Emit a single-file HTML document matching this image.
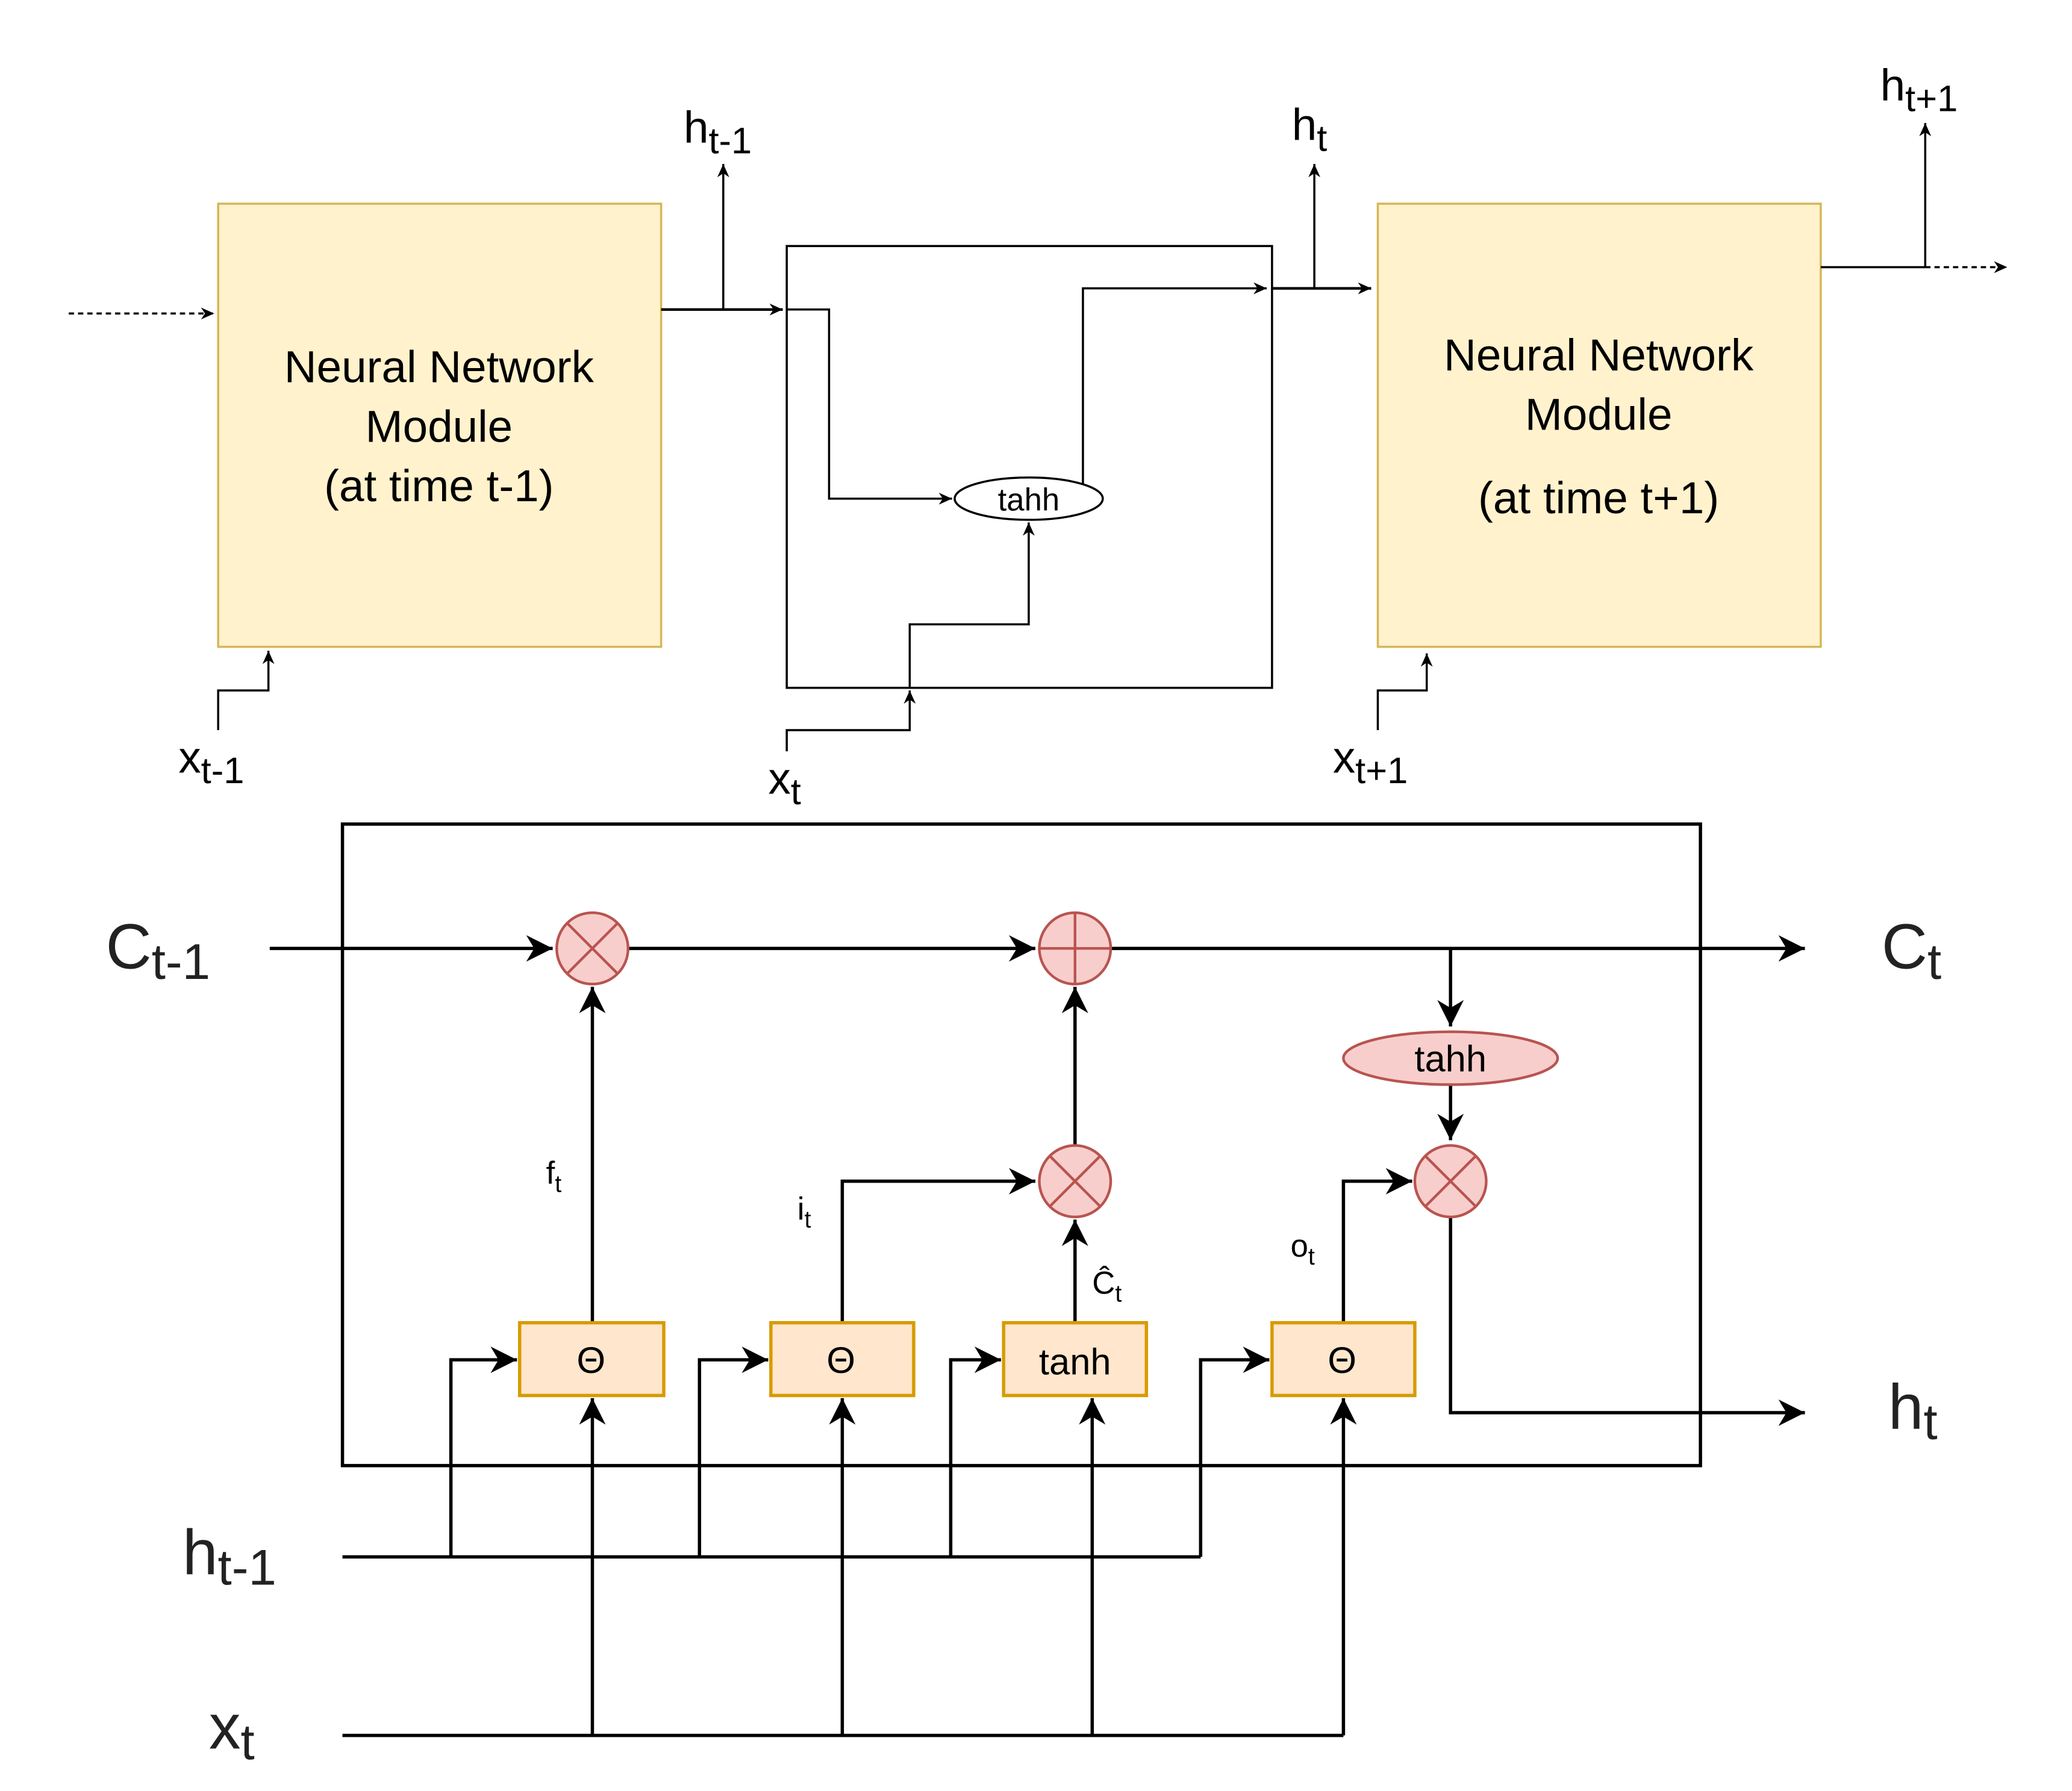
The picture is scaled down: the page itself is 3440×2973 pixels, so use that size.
<!DOCTYPE html>
<html><head><meta charset="utf-8"><style>html,body{margin:0;padding:0;background:#fff}svg{display:block}</style></head>
<body>
<svg width="3440" height="2973" viewBox="0 0 1567 1354" preserveAspectRatio="none" xmlns="http://www.w3.org/2000/svg" font-family="Liberation Sans, sans-serif">
<defs>
<marker id="s" markerUnits="userSpaceOnUse" markerWidth="12" markerHeight="12" refX="10" refY="6" orient="auto"><path d="M0,1.5 L10,6 L0,10.5 L3,6 Z" fill="#000"/></marker>
<marker id="b" markerUnits="userSpaceOnUse" markerWidth="24" markerHeight="24" refX="20" refY="12" orient="auto"><path d="M0,2 L20,12 L0,22 L6,12 Z" fill="#000"/></marker>
</defs>
<rect width="1567" height="1354" fill="#fff"/>
<g fill="none" stroke="#000" stroke-width="1.6">
<rect x="165" y="154" width="335" height="335" fill="#fff2cc" stroke="#d6b656"/>
<rect x="1042" y="154" width="335" height="335" fill="#fff2cc" stroke="#d6b656"/>
<rect x="595" y="186" width="367" height="334"/>
<path d="M52,237 H162" stroke-dasharray="4,3" marker-end="url(#s)"/>
<path d="M500,234 H592" stroke-width="2" marker-end="url(#s)"/>
<path d="M547,234 V124" marker-end="url(#s)"/>
<path d="M165,552 V522 H203 V492" marker-end="url(#s)"/>
<path d="M595,234 H627 V377 H720" marker-end="url(#s)"/>
<path d="M819,366 V218 H958" marker-end="url(#s)"/>
<path d="M962,218 H1037" stroke-width="2" marker-end="url(#s)"/>
<path d="M994,218 V124" marker-end="url(#s)"/>
<path d="M595,568 V552 H688 V522" marker-end="url(#s)"/>
<path d="M688,520 V472 H778 V395" marker-end="url(#s)"/>
<path d="M1377,202 H1456"/>
<path d="M1456,202 H1518" stroke-dasharray="4,3" marker-end="url(#s)"/>
<path d="M1456,202 V93" marker-end="url(#s)"/>
<path d="M1042,552 V522 H1079 V494" marker-end="url(#s)"/>
<ellipse cx="778" cy="377" rx="56" ry="16" fill="#fff"/>
</g>
<g font-size="34" text-anchor="middle" fill="#000">
<text x="332" y="289">Neural Network</text><text x="332" y="334">Module</text><text x="332" y="379">(at time t-1)</text>
<text x="1209" y="280">Neural Network</text><text x="1209" y="325">Module</text><text x="1209" y="388">(at time t+1)</text>
</g>
<text x="778" y="386" font-size="24" text-anchor="middle">tahh</text>
<g font-size="34">
<text x="517" y="108">h<tspan font-size="28" dy="8">t-1</tspan></text>
<text x="977" y="106">h<tspan font-size="28" dy="8">t</tspan></text>
<text x="1422" y="76">h<tspan font-size="28" dy="8">t+1</tspan></text>
<text x="135" y="584">x<tspan font-size="28" dy="8">t-1</tspan></text>
<text x="581" y="600">x<tspan font-size="28" dy="8">t</tspan></text>
<text x="1008" y="584">x<tspan font-size="28" dy="8">t+1</tspan></text>
</g>
<g fill="none" stroke="#000" stroke-width="2.5">
<rect x="259" y="623" width="1027" height="485"/>
<path d="M204,717 H418" marker-end="url(#b)"/>
<path d="M475,717 H783" marker-end="url(#b)"/>
<path d="M840,717 H1365" marker-end="url(#b)"/>
<path d="M1097,717 V776" marker-end="url(#b)"/>
<path d="M1097,820 V862" marker-end="url(#b)"/>
<path d="M1097,920 V1068 H1365" marker-end="url(#b)"/>
<path d="M448,1000 V746" marker-end="url(#b)"/>
<path d="M637,1000 V893 H783" marker-end="url(#b)"/>
<path d="M813,1000 V922" marker-end="url(#b)"/>
<path d="M813,866 V746" marker-end="url(#b)"/>
<path d="M1016,1000 V893 H1068" marker-end="url(#b)"/>
<path d="M259,1177 H908"/>
<path d="M341,1177 V1028 H391" marker-end="url(#b)"/>
<path d="M529,1177 V1028 H581" marker-end="url(#b)"/>
<path d="M719,1177 V1028 H757" marker-end="url(#b)"/>
<path d="M908,1177 V1028 H960" marker-end="url(#b)"/>
<path d="M259,1312 H1016"/>
<path d="M448,1312 V1057" marker-end="url(#b)"/>
<path d="M637,1312 V1057" marker-end="url(#b)"/>
<path d="M826,1312 V1057" marker-end="url(#b)"/>
<path d="M1016,1312 V1057" marker-end="url(#b)"/>
</g>
<g fill="#f8cecc" stroke="#b85450" stroke-width="2">
<circle cx="448" cy="717" r="27"/><path d="M429,698 L467,736 M467,698 L429,736"/>
<circle cx="813" cy="717" r="27"/><path d="M813,690 V744 M786,717 H840"/>
<circle cx="813" cy="893" r="27"/><path d="M794,874 L832,912 M832,874 L794,912"/>
<circle cx="1097" cy="893" r="27"/><path d="M1078,874 L1116,912 M1116,874 L1078,912"/>
<ellipse cx="1097" cy="800" rx="81" ry="20"/>
</g>
<g fill="#ffe6cc" stroke="#d79b00" stroke-width="2.5">
<rect x="393" y="1000" width="109" height="55"/>
<rect x="583" y="1000" width="108" height="55"/>
<rect x="759" y="1000" width="108" height="55"/>
<rect x="962" y="1000" width="108" height="55"/>
</g>
<g font-size="28" text-anchor="middle" fill="#000">
<text x="447" y="1038">Θ</text><text x="636" y="1038">Θ</text><text x="813" y="1039">tanh</text><text x="1015" y="1038">Θ</text>
<text x="1097" y="810">tahh</text>
</g>
<g font-size="24" fill="#000">
<text x="413" y="895">f<tspan font-size="18" dy="6">t</tspan></text>
<text x="603" y="922">i<tspan font-size="18" dy="6">t</tspan></text>
<text x="826" y="978">Ĉ<tspan font-size="18" dy="6">t</tspan></text>
<text x="976" y="950">o<tspan font-size="18" dy="6">t</tspan></text>
</g>
<g font-size="48" fill="#222">
<text x="80" y="732">C<tspan font-size="38" dy="8">t-1</tspan></text>
<text x="1423" y="732">C<tspan font-size="38" dy="8">t</tspan></text>
<text x="1428" y="1080">h<tspan font-size="38" dy="8">t</tspan></text>
<text x="138" y="1190">h<tspan font-size="38" dy="8">t-1</tspan></text>
<text x="158" y="1322">x<tspan font-size="38" dy="8">t</tspan></text>
</g>
</svg>
</body></html>
